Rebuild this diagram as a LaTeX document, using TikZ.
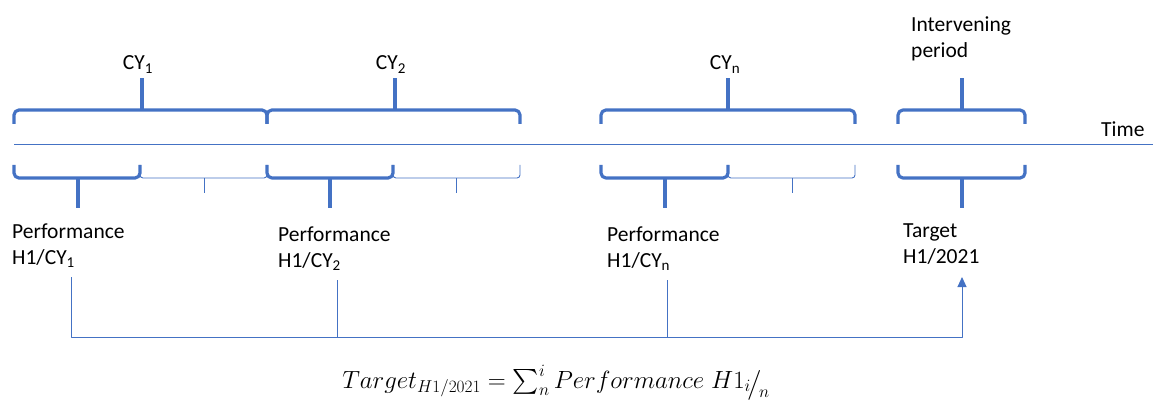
\documentclass[tikz,border=0pt]{standalone}
\usepackage{amsmath}
\usepackage[no-math]{fontspec}
\setmainfont{Carlito}
\usetikzlibrary{arrows.meta, positioning}
\definecolor{offblue}{HTML}{4472C4}
\tikzset{
  every picture/.style={line join=round},
  txt/.style={anchor=base west, align=left, inner sep=0pt, font=\fontsize{21.5pt}{26pt}\selectfont},
  cylbl/.style={anchor=base, inner sep=0pt, font=\fontsize{21.5pt}{26pt}\selectfont},
  axis/.style={offblue, line width=1pt},
  bigbrc/.style={offblue, line width=3.2pt, rounded corners=5pt},
  smallbrc/.style={offblue, line width=0.9pt, rounded corners=3pt},
  link/.style={offblue, line width=1pt},
}

\begin{document}
\begin{tikzpicture}[x=1pt, y=-1pt]
  \useasboundingbox (0,0) rectangle (1153,414);
  % brace above the axis: \upbrace{left}{tip}{right}
  \newcommand\upbrace[3]{%
    \draw[bigbrc] (#1,124) -- (#1,110) -- (#2,110) -- (#3,110) -- (#3,124);
    \draw[bigbrc, rounded corners=0pt] (#2,110) -- (#2,78);
  }
  % brace below the axis: \lowbrace[style]{left}{tip}{right}{tip depth}
  \newcommand\lowbrace[5][bigbrc]{%
    \draw[#1] (#2,165) -- (#2,178) -- (#3,178) -- (#4,178) -- (#4,165);
    \draw[#1, rounded corners=0pt] (#3,178) -- (#3,#5);
  }

  % time axis
  \draw[axis] (14,145) -- (1153,145);
  \node[txt] (time) at (1101,137) {Time};

  % calendar years
  \upbrace{14}{142}{267}
  \upbrace{267}{395}{520}
  \upbrace{601}{728}{855}
  \upbrace{898}{962}{1025}
  \node[cylbl] (cy1) at (138,70) {CY\textsubscript{1}};
  \node[cylbl] (cy2) at (391,70) {CY\textsubscript{2}};
  \node[cylbl] (cyn) at (725,70) {CY\textsubscript{n}};
  % multi-line nodes sit on their last baseline
  \node[txt] (gap) at (911,58) {Intervening\\period};

  % half years
  \lowbrace{14}{78}{140}{208}
  \lowbrace[smallbrc]{140}{204}{267}{193}
  \lowbrace{267}{330}{393}{208}
  \lowbrace[smallbrc]{393}{456}{520}{193}
  \lowbrace{601}{665}{728}{208}
  \lowbrace[smallbrc]{728}{792}{855}{193}
  \lowbrace{898}{962}{1025}{208}

  \node[txt] (perf1) at (12,264) {Performance\\H1/CY\textsubscript{1}};
  \node[txt] (perf2) at (278,267) {Performance\\H1/CY\textsubscript{2}};
  \node[txt] (perfn) at (607,267) {Performance\\H1/CY\textsubscript{n}};
  \node[txt] (target) at (903,263) {Target\\H1/2021};

  % feeding the target
  \coordinate (p1) at (71,277);
  \coordinate (p2) at (337,280);
  \coordinate (pn) at (667,280);
  \coordinate (tin) at (962,277);
  \coordinate (base) at (71,337);
  \draw[link, -{Triangle[length=10pt, width=9pt]}] (p1) -- (base) -| (tin);
  \draw[link] (p2) -- (p2 |- base);
  \draw[link] (pn) -- (pn |- base);

  \node[anchor=base, inner sep=0pt, font=\fontsize{25pt}{29pt}\selectfont] (formula) at (556,388)
    {$Target_{H1/2021}=\sum\nolimits_{n}^{i} Performance\;H1_{i\!\smash{\big/}\!\smash{\lower6pt\hbox{$\scriptstyle n$}}}$};
\end{tikzpicture}
\end{document}
